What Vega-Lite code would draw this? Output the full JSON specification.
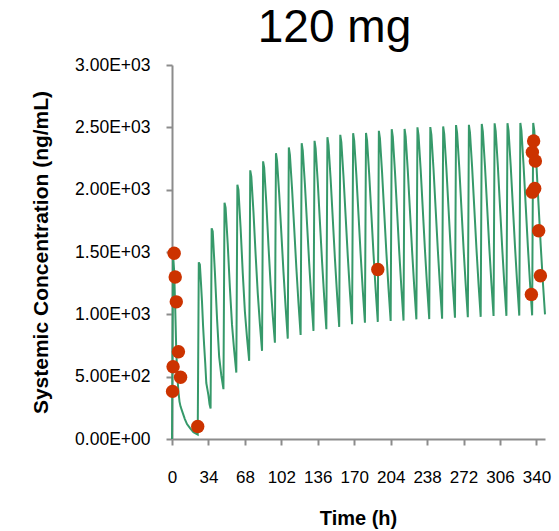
{
  "$schema": "https://vega.github.io/schema/vega-lite/v6.json",
  "width": 373,
  "height": 374,
  "autosize": {"type": "none"},
  "padding": {"left": 172, "top": 65, "right": 14, "bottom": 92},
  "background": "white",
  "config": {"view": {"stroke": null}, "font": "Liberation Sans"},
  "title": {"text": "120 mg", "fontSize": 46, "fontWeight": "normal", "font": "Liberation Sans", "color": "#000000", "anchor": "middle", "frame": "group", "dx": -24, "dy": 42, "baseline": "alphabetic", "offset": 10},
  "datasets": {
    "model": [
      {"t":0,"c":0},{"t":1,"c":1480},{"t":2,"c":1350},{"t":3,"c":1050},{"t":4,"c":700},{"t":5,"c":500},{"t":6,"c":380},{"t":7,"c":300},{"t":8,"c":260},{"t":10,"c":210},{"t":12,"c":160},{"t":14,"c":120},{"t":17,"c":85},{"t":20,"c":55},{"t":24,"c":35},
      {"t":25,"c":1417},{"t":26,"c":1400},{"t":27,"c":1256},{"t":28,"c":1100},{"t":29,"c":906},{"t":30,"c":750},{"t":31,"c":610},{"t":32,"c":449},{"t":33,"c":400},{"t":34,"c":350},{"t":35,"c":280},{"t":36,"c":245},
      {"t":37,"c":1690},{"t":38,"c":1664},{"t":40,"c":1342},{"t":42,"c":968},{"t":44,"c":658},{"t":46,"c":510},{"t":48,"c":400},
      {"t":49,"c":1896},{"t":50,"c":1855},{"t":52,"c":1562},{"t":54,"c":1215},{"t":56,"c":915},{"t":58,"c":710},{"t":60,"c":533},
      {"t":61,"c":2040},{"t":62,"c":1998},{"t":64,"c":1694},{"t":66,"c":1334},{"t":68,"c":1023},{"t":70,"c":811},{"t":72,"c":627},
      {"t":73,"c":2155},{"t":74,"c":2104},{"t":76,"c":1822},{"t":78,"c":1482},{"t":80,"c":1170},{"t":82,"c":924},{"t":84,"c":707},
      {"t":85,"c":2227},{"t":86,"c":2176},{"t":88,"c":1893},{"t":90,"c":1551},{"t":92,"c":1238},{"t":94,"c":991},{"t":96,"c":773},
      {"t":97,"c":2293},{"t":98,"c":2233},{"t":100,"c":1966},{"t":102,"c":1653},{"t":104,"c":1341},{"t":106,"c":1058},{"t":108,"c":805},
      {"t":109,"c":2339},{"t":110,"c":2279},{"t":112,"c":2008},{"t":114,"c":1692},{"t":116,"c":1376},{"t":118,"c":1091},{"t":120,"c":835},
      {"t":121,"c":2373},{"t":122,"c":2313},{"t":124,"c":2042},{"t":126,"c":1725},{"t":128,"c":1409},{"t":130,"c":1123},{"t":132,"c":867},
      {"t":133,"c":2392},{"t":134,"c":2332},{"t":136,"c":2059},{"t":138,"c":1742},{"t":140,"c":1424},{"t":142,"c":1137},{"t":144,"c":880},
      {"t":145,"c":2421},{"t":146,"c":2360},{"t":148,"c":2086},{"t":150,"c":1767},{"t":152,"c":1447},{"t":154,"c":1158},{"t":156,"c":899},
      {"t":157,"c":2440},{"t":158,"c":2379},{"t":160,"c":2106},{"t":162,"c":1786},{"t":164,"c":1467},{"t":166,"c":1178},{"t":168,"c":920},
      {"t":169,"c":2453},{"t":170,"c":2392},{"t":172,"c":2119},{"t":174,"c":1799},{"t":176,"c":1480},{"t":178,"c":1191},{"t":180,"c":933},
      {"t":181,"c":2455},{"t":182,"c":2394},{"t":184,"c":2121},{"t":186,"c":1803},{"t":188,"c":1485},{"t":190,"c":1197},{"t":192,"c":939},
      {"t":193,"c":2472},{"t":194,"c":2411},{"t":196,"c":2137},{"t":198,"c":1816},{"t":200,"c":1496},{"t":202,"c":1206},{"t":204,"c":947},
      {"t":205,"c":2485},{"t":206,"c":2424},{"t":208,"c":2147},{"t":210,"c":1825},{"t":212,"c":1503},{"t":214,"c":1211},{"t":216,"c":950},
      {"t":217,"c":2487},{"t":218,"c":2426},{"t":220,"c":2151},{"t":222,"c":1830},{"t":224,"c":1510},{"t":226,"c":1220},{"t":228,"c":960},
      {"t":229,"c":2500},{"t":230,"c":2438},{"t":232,"c":2162},{"t":234,"c":1839},{"t":236,"c":1516},{"t":238,"c":1223},{"t":240,"c":962},
      {"t":241,"c":2502},{"t":242,"c":2440},{"t":244,"c":2164},{"t":246,"c":1841},{"t":248,"c":1518},{"t":250,"c":1226},{"t":252,"c":965},
      {"t":253,"c":2507},{"t":254,"c":2446},{"t":256,"c":2170},{"t":258,"c":1847},{"t":260,"c":1525},{"t":262,"c":1234},{"t":264,"c":973},
      {"t":265,"c":2518},{"t":266,"c":2456},{"t":268,"c":2179},{"t":270,"c":1855},{"t":272,"c":1532},{"t":274,"c":1239},{"t":276,"c":977},
      {"t":277,"c":2520},{"t":278,"c":2458},{"t":280,"c":2181},{"t":282,"c":1858},{"t":284,"c":1534},{"t":286,"c":1242},{"t":288,"c":980},
      {"t":289,"c":2527},{"t":290,"c":2465},{"t":292,"c":2188},{"t":294,"c":1865},{"t":296,"c":1541},{"t":298,"c":1249},{"t":300,"c":987},
      {"t":301,"c":2532},{"t":302,"c":2470},{"t":304,"c":2192},{"t":306,"c":1868},{"t":308,"c":1544},{"t":310,"c":1250},{"t":312,"c":988},
      {"t":313,"c":2533},{"t":314,"c":2471},{"t":316,"c":2194},{"t":318,"c":1870},{"t":320,"c":1545},{"t":322,"c":1252},{"t":324,"c":990},
      {"t":325,"c":2535},{"t":326,"c":2473},{"t":328,"c":2196},{"t":330,"c":1872},{"t":332,"c":1547},{"t":334,"c":1254},{"t":336,"c":992},
      {"t":337,"c":2535},{"t":338,"c":2474},{"t":340,"c":2197},{"t":342,"c":1875},{"t":344,"c":1553},{"t":346,"c":1261},{"t":348,"c":1000}
    ],
    "obs": [
      {"t":0.5,"c":382},{"t":1,"c":580},{"t":2,"c":1490},{"t":3,"c":1300},{"t":4,"c":1100},{"t":6,"c":700},{"t":8,"c":495},{"t":24,"c":100},
      {"t":192,"c":1360},
      {"t":335.3,"c":1160},{"t":336.2,"c":1980},{"t":336.2,"c":2300},{"t":337.4,"c":2390},{"t":338.4,"c":2010},{"t":339,"c":2230},{"t":342.1,"c":1670},{"t":343.7,"c":1310}
    ]
  },
  "encoding": {
    "x": {
      "field": "t", "type": "quantitative",
      "scale": {"domain": [0, 348], "nice": false, "zero": false},
      "axis": {
        "values": [0, 34, 68, 102, 136, 170, 204, 238, 272, 306, 340],
        "grid": false, "labelFontSize": 17, "labelColor": "#000000", "labelPadding": 24,
        "labelFlush": false, "labelOverlap": false,
        "tickSize": 6, "tickWidth": 2, "tickColor": "#8c8c8c", "domainColor": "#8c8c8c", "domainWidth": 2,
        "title": "Time (h)", "titleFontSize": 20, "titleFontWeight": "bold", "titleColor": "#000000",
        "titleY": 69, "titleBaseline": "top", "titleX": 186
      }
    },
    "y": {
      "field": "c", "type": "quantitative",
      "scale": {"domain": [0, 3000], "nice": false},
      "axis": {
        "values": [0, 500, 1000, 1500, 2000, 2500, 3000],
        "labelExpr": "datum.value == 0 ? '0.00E+00' : (datum.value < 1000 ? format(datum.value/100, '.2f') + 'E+02' : format(datum.value/1000, '.2f') + 'E+03')",
        "grid": false, "labelFontSize": 17.5, "labelColor": "#000000", "labelPadding": 16,
        "tickSize": 6, "tickWidth": 2, "tickColor": "#8c8c8c", "domainColor": "#8c8c8c", "domainWidth": 2,
        "title": "Systemic Concentration (ng/mL)", "titleFontSize": 21, "titleFontWeight": "bold", "titleColor": "#000000",
        "titleX": -131, "titleY": 187, "titleAngle": -90, "titleBaseline": "middle", "titleAlign": "center"
      }
    }
  },
  "layer": [
    {"data": {"name": "model"}, "mark": {"type": "line", "color": "#36996a", "strokeWidth": 2}},
    {"data": {"name": "obs"}, "mark": {"type": "point", "filled": true, "color": "#cc3300", "size": 180, "opacity": 1}}
  ]
}
